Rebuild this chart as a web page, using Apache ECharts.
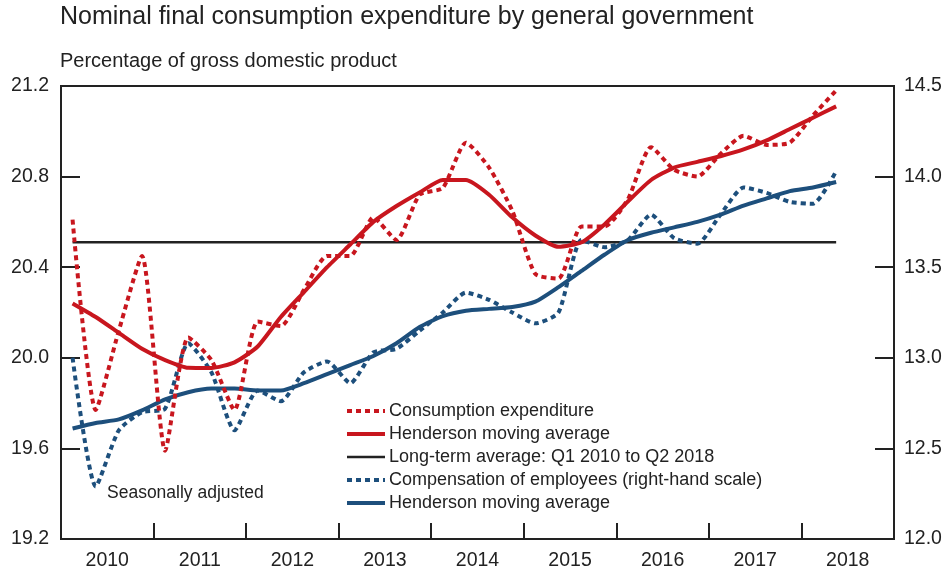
<!DOCTYPE html>
<html>
<head>
<meta charset="utf-8">
<script src="https://cdn.jsdelivr.net/npm/echarts@6/dist/echarts.min.js"></script>
<style>html,body{margin:0;padding:0;background:#fff}#c{width:947px;height:573px}</style>
</head>
<body>
<div id="c"></div>
<script>
// Quarterly, Q1 2010 .. Q2 2018
const years = [2010, 2011, 2012, 2013, 2014, 2015, 2016, 2017, 2018];
const consumption = [20.61, 19.77, 20.12, 20.45, 19.59, 20.09, 19.99, 19.77, 20.16, 20.14,
  20.30, 20.45, 20.45, 20.62, 20.52, 20.72, 20.75, 20.95, 20.84, 20.65,
  20.37, 20.35, 20.58, 20.58, 20.70, 20.93, 20.83, 20.80, 20.90, 20.98,
  20.94, 20.95, 21.07, 21.18];
const consumptionHMA = [20.24, 20.18, 20.11, 20.04, 19.99, 19.956, 19.955, 19.98, 20.05, 20.18,
  20.29, 20.40, 20.50, 20.60, 20.67, 20.73, 20.785, 20.785, 20.72, 20.62,
  20.54, 20.49, 20.51, 20.59, 20.69, 20.785, 20.84, 20.865, 20.89, 20.92,
  20.96, 21.01, 21.06, 21.11];
const longTermAverage = 20.51;
const compensation = [13.00, 12.29, 12.60, 12.70, 12.72, 13.08, 12.92, 12.60, 12.82, 12.76,
  12.92, 12.98, 12.86, 13.03, 13.05, 13.15, 13.25, 13.36, 13.32, 13.25,
  13.19, 13.25, 13.65, 13.61, 13.65, 13.79, 13.66, 13.63, 13.79, 13.94,
  13.91, 13.86, 13.85, 14.03];
const compensationHMA = [12.61, 12.64, 12.66, 12.71, 12.77, 12.81, 12.83, 12.83, 12.82, 12.82,
  12.86, 12.91, 12.96, 13.01, 13.08, 13.17, 13.23, 13.26, 13.27, 13.28,
  13.31, 13.39, 13.48, 13.57, 13.65, 13.69, 13.72, 13.75, 13.79, 13.84,
  13.88, 13.92, 13.94, 13.97];

const RED = '#c8161e', BLUE = '#1d4f7c', INK = '#222';
const FONT = '"Liberation Sans", Arial, sans-serif';
const toXY = arr => arr.map((v, i) => [i + 0.5, v]);
const nQ = consumption.length;
const SM = 0.2;
const legendNames = ['Consumption expenditure', 'Henderson moving average', 'Long-term average: Q1 2010 to Q2 2018',
  'Compensation of employees (right-hand scale)', 'Henderson moving average '];

const chart = echarts.init(document.getElementById('c'));
chart.setOption({
  animation: false,
  textStyle: { fontFamily: FONT, color: INK },
  grid: { left: 61, right: 53, top: 86, bottom: 34, show: true, borderColor: INK, borderWidth: 2, backgroundColor: 'transparent' },
  graphic: [
    { type: 'text', left: 60, top: 5, style: { text: 'Nominal final consumption expenditure by general government', font: '25px ' + FONT, fill: INK } },
    { type: 'text', left: 60, top: 51, style: { text: 'Percentage of gross domestic product', font: '20px ' + FONT, fill: INK } },
    { type: 'text', left: 107, top: 484, style: { text: 'Seasonally adjusted', font: '17.5px ' + FONT, fill: INK } }
  ],
  legend: {
    orient: 'vertical', left: 340, top: 397, itemWidth: 38, itemHeight: 14, itemGap: 5,
    itemStyle: { opacity: 0 },
    textStyle: { fontSize: 18, color: INK, fontFamily: FONT, padding: [0, 0, 0, -1] },
    data: legendNames.map((n, i) => ({ name: n, lineStyle: { width: i === 2 ? 2.5 : 4 } }))
  },
  xAxis: {
    type: 'value', min: 0, max: 36,
    axisLine: { show: true, lineStyle: { color: INK, width: 2 } },
    splitLine: { show: false },
    axisTick: { show: true, inside: true, length: 16, lineStyle: { color: INK, width: 2 },
      customValues: years.slice(1).map((y, i) => (i + 1) * 4) },
    axisLabel: { fontSize: 19.5, color: INK, margin: 12, fontFamily: FONT,
      customValues: years.map((y, i) => i * 4 + 2),
      formatter: v => String(years[Math.round((v - 2) / 4)]) }
  },
  yAxis: [
    { type: 'value', min: 19.2, max: 21.2, interval: 0.4, position: 'left',
      axisLine: { show: true, lineStyle: { color: INK, width: 2 } },
      splitLine: { show: false },
      axisTick: { show: true, inside: true, length: 19, lineStyle: { color: INK, width: 2 } },
      axisLabel: { fontSize: 19.5, color: INK, margin: 12, fontFamily: FONT, formatter: v => v.toFixed(1) } },
    { type: 'value', min: 12, max: 14.5, interval: 0.5, position: 'right',
      axisLine: { show: true, lineStyle: { color: INK, width: 2 } },
      splitLine: { show: false },
      axisTick: { show: true, inside: true, length: 19, lineStyle: { color: INK, width: 2 } },
      axisLabel: { fontSize: 19.5, color: INK, margin: 10, fontFamily: FONT, formatter: v => v.toFixed(1) } }
  ],
  series: [
    { name: legendNames[2], type: 'line', yAxisIndex: 0, symbol: 'none', z: 1,
      data: [[0.5, longTermAverage], [nQ - 0.5, longTermAverage]],
      lineStyle: { color: INK, width: 2.5 }, itemStyle: { color: INK } },
    { name: legendNames[3], type: 'line', yAxisIndex: 1, symbol: 'none', smooth: SM, z: 2,
      data: toXY(compensation), lineStyle: { color: BLUE, width: 4, type: [5, 4] }, itemStyle: { color: BLUE } },
    { name: legendNames[4], type: 'line', yAxisIndex: 1, symbol: 'none', smooth: SM, z: 3,
      data: toXY(compensationHMA), lineStyle: { color: BLUE, width: 4 }, itemStyle: { color: BLUE } },
    { name: legendNames[0], type: 'line', yAxisIndex: 0, symbol: 'none', smooth: SM, z: 4,
      data: toXY(consumption), lineStyle: { color: RED, width: 4, type: [5, 4] }, itemStyle: { color: RED } },
    { name: legendNames[1], type: 'line', yAxisIndex: 0, symbol: 'none', smooth: SM, z: 5,
      data: toXY(consumptionHMA), lineStyle: { color: RED, width: 4 }, itemStyle: { color: RED } }
  ]
});
</script>
</body>
</html>
